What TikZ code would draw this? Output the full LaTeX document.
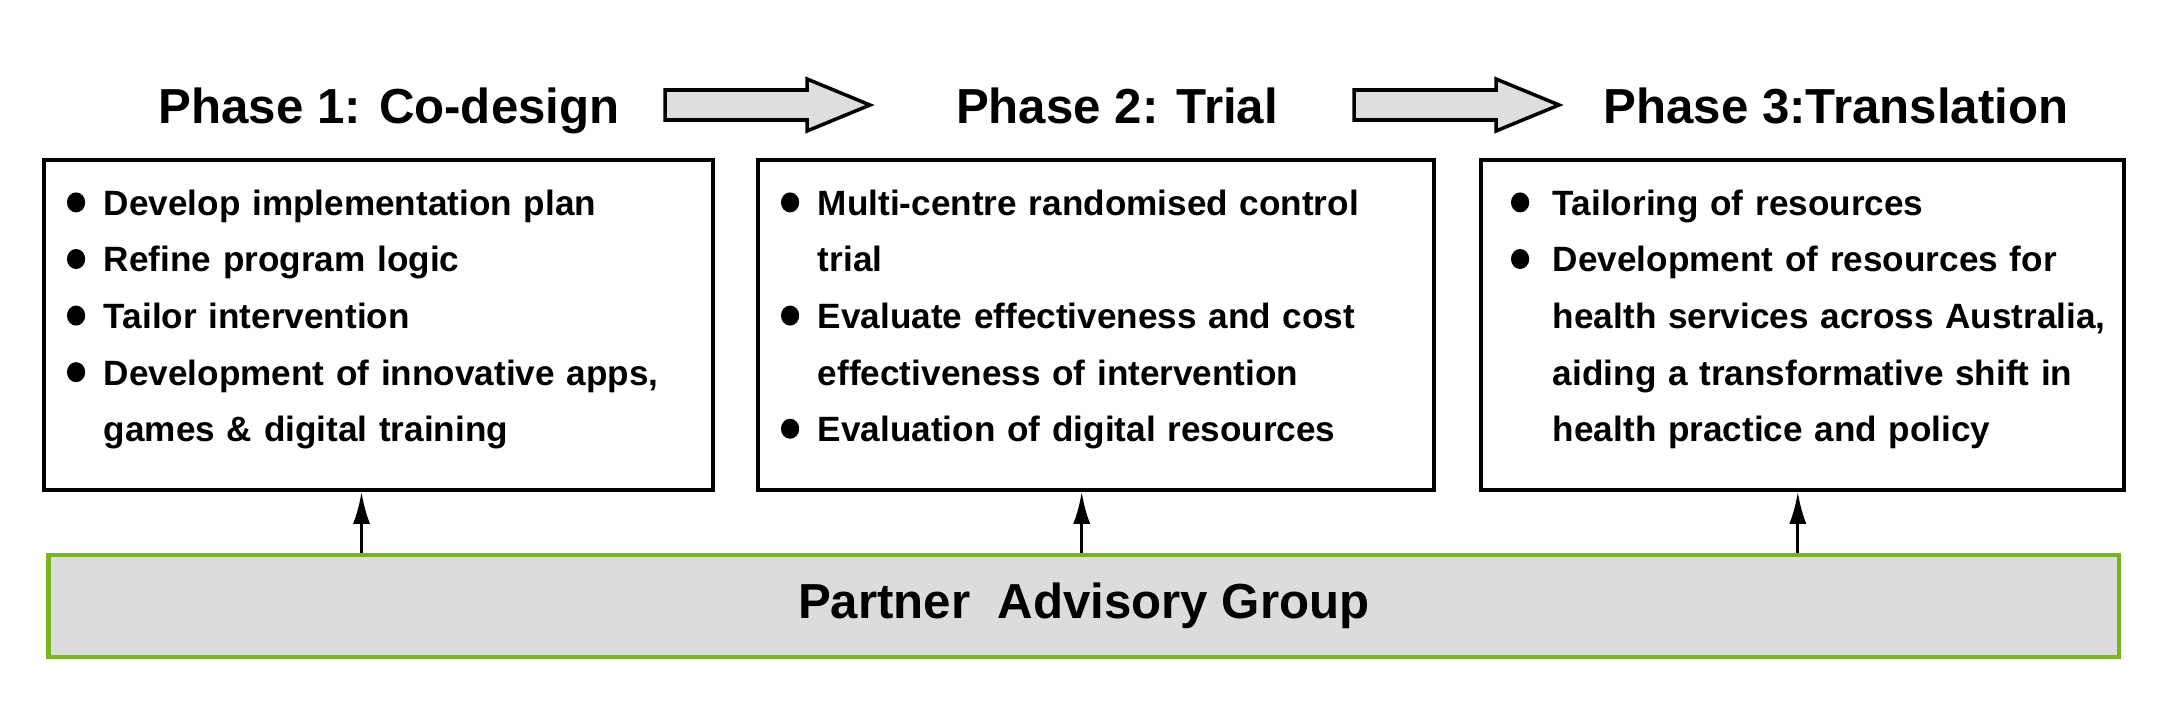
\documentclass[tikz,border=0pt]{standalone}
\usepackage{fontspec}
\setmainfont{Liberation Sans}
\usepackage{tikz}
\usetikzlibrary{arrows.meta, positioning, calc}
\definecolor{advgreen}{HTML}{7AB51D}
\definecolor{advgray}{HTML}{DCDCDC}
\definecolor{arrowgray}{HTML}{DEDEDE}

% round bullet and hanging list item
\newcommand{\bdot}{\tikz[baseline=-3.7pt]\fill (0,0) ellipse [x radius=2.6pt, y radius=2.85pt];}
\newcommand{\pitem}[2][0.37cm]{\noindent\hangindent=#1\hangafter=1\makebox[#1][l]{\bdot}#2\par}
\newcommand{\nl}{\hfil\break}

\tikzset{
  phasebox/.style={draw, line width=1pt, minimum height=3.30cm, inner sep=0pt},
  phasetitle/.style={font=\bfseries\fontsize{14}{17}\selectfont, anchor=base, inner sep=0pt},
  phaselist/.style={font=\bfseries\fontsize{10}{16.1}\selectfont, text width=6cm, align=left, inner sep=0pt},
  advbox/.style={draw=advgreen, fill=advgray, line width=1.3pt, minimum width=20.7cm, minimum height=1.02cm, font=\bfseries\fontsize{14}{17}\selectfont},
  blockarrow/.style={draw, fill=arrowgray, line width=1pt, line join=miter},
  uparrow/.style={-{Latex[length=3.2mm,width=1.7mm]}, line width=0.9pt}
}

\begin{document}
\begin{tikzpicture}
  \useasboundingbox (0,0) rectangle (21.72,7.24);

  % phase titles
  \node[phasetitle] (title1) at (3.89,6.01) {Phase 1: Co-design};
  \node[phasetitle] (title2) at (11.17,6.01) {Phase 2: Trial};
  \node[phasetitle] (title3) at (18.36,6.01) {Phase 3:Translation};

  % block arrows between the titles
  \foreach \x in {6.65,13.54} {
    \draw[blockarrow] (\x,6.04) -- ++(1.42,0) -- ++(0,-0.11) -- ++(0.63,0.26)
      -- ++(-0.63,0.26) -- ++(0,-0.11) -- ++(-1.42,0) -- cycle;
  }

  % phase boxes
  \node[phasebox, minimum width=6.69cm] (box1) at (3.785,3.99) {};
  \node[phasebox, minimum width=6.76cm] (box2) at (10.96,3.99) {};
  \node[phasebox, minimum width=6.43cm] (box3) at (18.025,3.99) {};

  \node[phaselist, below right=0.31cm and 0.24cm of box1.north west] (list1) {%
    \pitem{Develop implementation plan}
    \pitem{Refine program logic}
    \pitem{Tailor intervention}
    \pitem{Development of innovative apps,\nl games \& digital training}};
  \node[phaselist, below right=0.31cm and 0.24cm of box2.north west] (list2) {%
    \pitem{Multi-centre randomised control\nl trial}
    \pitem{Evaluate effectiveness and cost\nl effectiveness of intervention}
    \pitem{Evaluation of digital resources}};
  \node[phaselist, below right=0.31cm and 0.31cm of box3.north west] (list3) {%
    \pitem[0.42cm]{Tailoring of resources}
    \pitem[0.42cm]{Development of resources for\nl health services across Australia,\nl
      aiding a transformative shift in\nl health practice and policy}};

  % advisory group and its links
  \node[advbox] (pag) at (10.8375,1.18) {Partner\ \ Advisory Group};
  \foreach \b/\x in {box1/3.615, box2/10.817, box3/17.978} {
    \coordinate (up\b) at (\x,0);
    \draw[uparrow] (up\b |- pag.north) -- (up\b |- \b.south);
  }
\end{tikzpicture}
\end{document}
